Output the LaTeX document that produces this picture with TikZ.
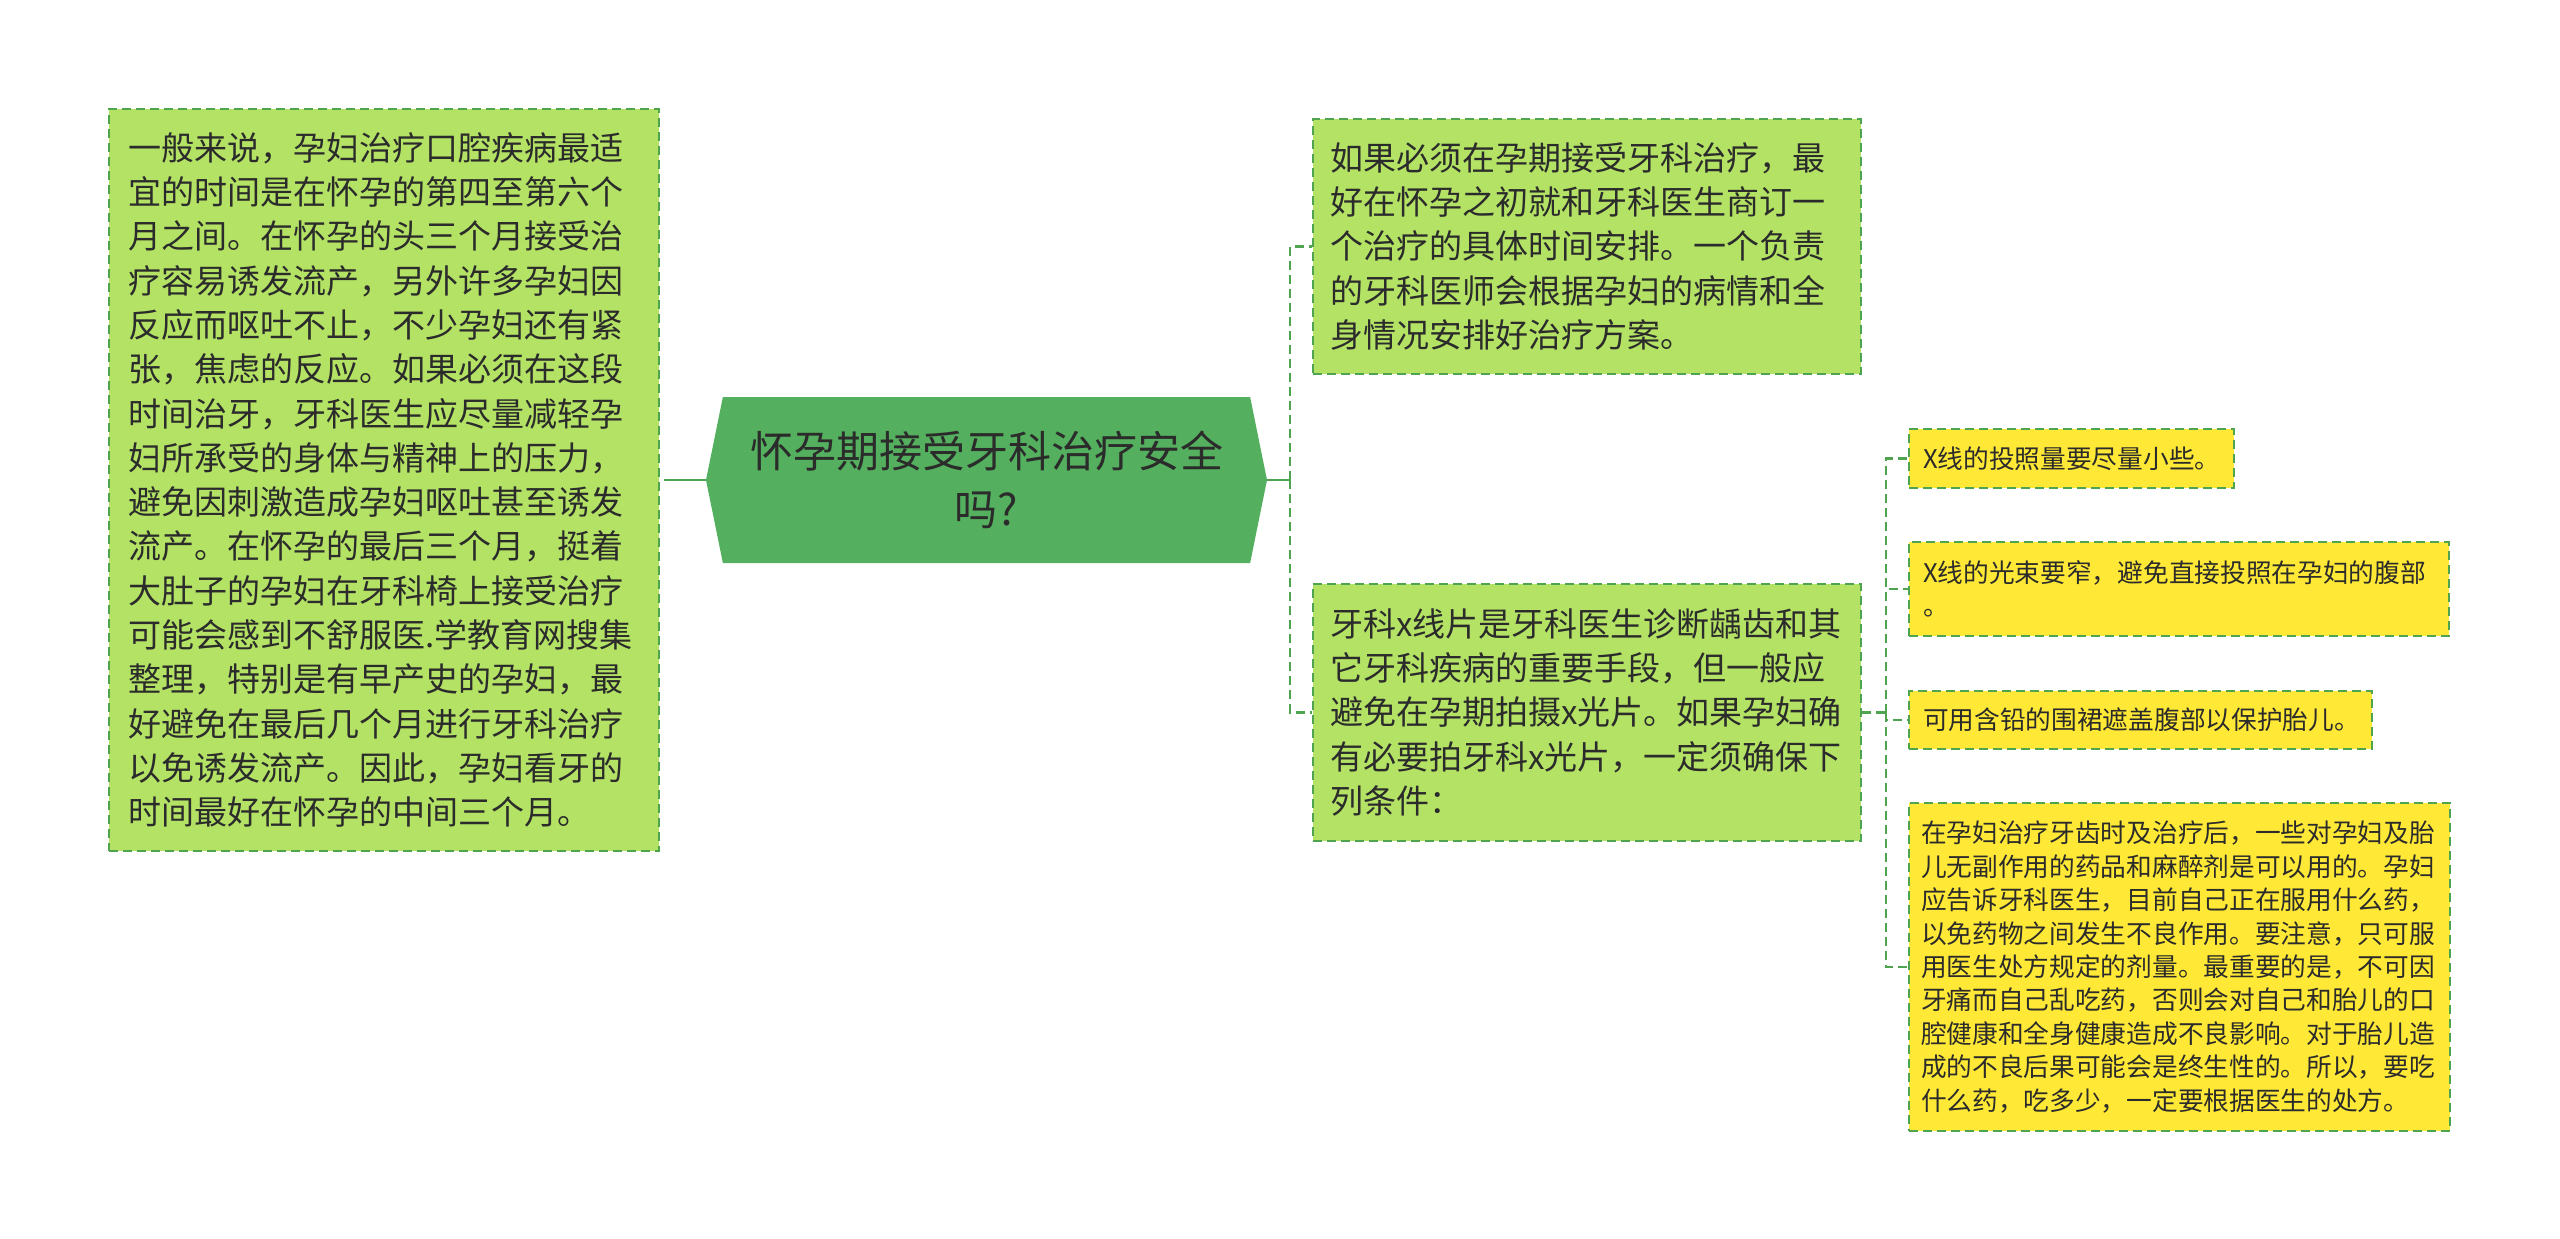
\documentclass[tikz,border=0pt]{standalone}
\usepackage{fontspec}
\setmainfont{Noto Sans CJK SC}
\usetikzlibrary{shapes.symbols}

\definecolor{leafgreen}{HTML}{B3E265}
\definecolor{rootgreen}{HTML}{54B05E}
\definecolor{edgegreen}{HTML}{4FA54F}
\definecolor{leafyellow}{HTML}{FFE936}
\definecolor{inkgray}{HTML}{2B2B2B}

\tikzset{
  box/.style={draw=edgegreen, line width=2pt, dash pattern=on 9pt off 5pt,
    text=inkgray, align=left, inner ysep=0pt},
  greenbox/.style={box, fill=leafgreen, font=\fontsize{33pt}{44.3pt}\selectfont},
  yellowbox/.style={box, fill=leafyellow, font=\fontsize{25.7pt}{33.4pt}\selectfont},
  rootbox/.style={signal, signal to=east and west, signal pointer angle=157,
    fill=rootgreen, text=inkgray, align=center, inner sep=0pt,
    minimum width=561pt, minimum height=166pt,
    font=\fontsize{43pt}{58pt}\selectfont},
  link/.style={draw=edgegreen, line width=2.5pt},
  dashlink/.style={link, dash pattern=on 9pt off 5pt},
}

\begin{document}
\begin{tikzpicture}[x=1pt,y=-1pt]

\fill[white] (0,0) rectangle (2560,1239);
\useasboundingbox (0,0) rectangle (2560,1239);

% --- Nodo centrale ---
\node[rootbox] (root) at (986.5,480) {怀孕期接受牙科治疗安全\\吗?};

% --- Ramo sinistro ---
\node[greenbox, text width=512pt, inner xsep=19pt, minimum height=742pt] (timing) at (384,480)
  {一般来说，孕妇治疗口腔疾病最适\\宜的时间是在怀孕的第四至第六个\\月之间。在怀孕的头三个月接受治\\疗容易诱发流产，另外许多孕妇因\\反应而呕吐不止，不少孕妇还有紧\\张，焦虑的反应。如果必须在这段\\时间治牙，牙科医生应尽量减轻孕\\妇所承受的身体与精神上的压力，\\避免因刺激造成孕妇呕吐甚至诱发\\流产。在怀孕的最后三个月，挺着\\大肚子的孕妇在牙科椅上接受治疗\\可能会感到不舒服医.学教育网搜集\\整理，特别是有早产史的孕妇，最\\好避免在最后几个月进行牙科治疗\\以免诱发流产。因此，孕妇看牙的\\时间最好在怀孕的中间三个月。};

% --- Ramo destro ---
\node[greenbox, text width=514pt, inner xsep=17pt, minimum height=255pt] (plan) at (1587,246.5)
  {如果必须在孕期接受牙科治疗，最\\好在怀孕之初就和牙科医生商订一\\个治疗的具体时间安排。一个负责\\的牙科医师会根据孕妇的病情和全\\身情况安排好治疗方案。};
\node[greenbox, text width=514pt, inner xsep=17pt, minimum height=257pt] (xray) at (1587,712.5)
  {牙科x线片是牙科医生诊断龋齿和其\\它牙科疾病的重要手段，但一般应\\避免在孕期拍摄x光片。如果孕妇确\\有必要拍牙科x光片，一定须确保下\\列条件：};

% --- Condizioni ---
\node[yellowbox, text width=297pt, inner xsep=14pt, minimum height=59pt] (dose) at (2071.5,458.5)
  {X线的投照量要尽量小些。};
\node[yellowbox, text width=512pt, inner xsep=14pt, minimum height=94pt] (beam) at (2179,589)
  {X线的光束要窄，避免直接投照在孕妇的腹部\\。};
\node[yellowbox, text width=435pt, inner xsep=14pt, minimum height=58pt] (apron) at (2140.5,720)
  {可用含铅的围裙遮盖腹部以保护胎儿。};
\node[yellowbox, text width=517pt, inner xsep=12pt, minimum height=328pt] (drugs) at (2179.5,967)
  {在孕妇治疗牙齿时及治疗后，一些对孕妇及胎\\儿无副作用的药品和麻醉剂是可以用的。孕妇\\应告诉牙科医生，目前自己正在服用什么药，\\以免药物之间发生不良作用。要注意，只可服\\用医生处方规定的剂量。最重要的是，不可因\\牙痛而自己乱吃药，否则会对自己和胎儿的口\\腔健康和全身健康造成不良影响。对于胎儿造\\成的不良后果可能会是终生性的。所以，要吃\\什么药，吃多少，一定要根据医生的处方。};

% --- Collegamenti ---
\coordinate (lhub) at (673,480);
\coordinate (rhub) at (1290,480);
\coordinate (xhub) at (1886,712.5);
\draw[link] (root.west) -- (lhub);
\draw[dashlink] (lhub) -- (timing.east);
\draw[link] (root.east) -- (rhub);
\draw[dashlink] (rhub) |- (plan.west);
\draw[dashlink] (rhub) |- (xray.west);
\draw[dashlink] (xray.east) -- (xhub);
\foreach \leaf in {dose,beam,apron,drugs}
  \draw[dashlink] (xhub) |- (\leaf.west);

\end{tikzpicture}
\end{document}
